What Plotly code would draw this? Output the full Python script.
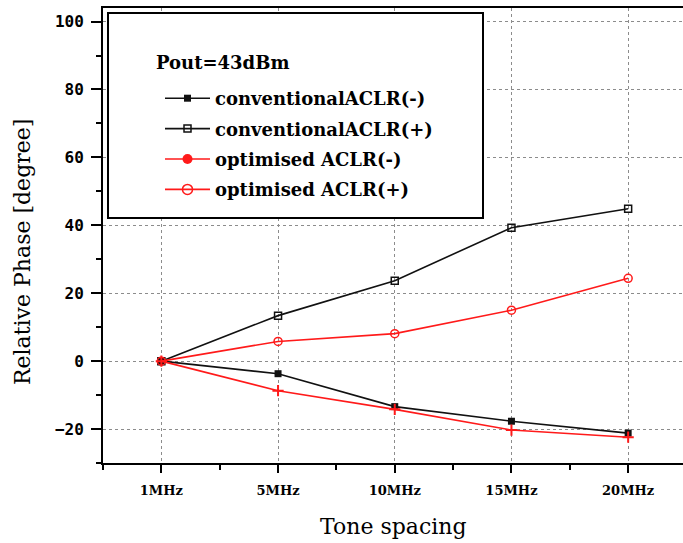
import plotly.graph_objects as go

# ---- data ----
categories = ["1MHz", "5MHz", "10MHz", "15MHz", "20MHz"]
conv_minus = [0, -3.7, -13.4, -17.7, -21.2]
conv_plus = [0, 13.4, 23.7, 39.3, 44.9]
opt_minus = [0, -8.7, -14.2, -20.3, -22.4]
opt_plus = [0, 5.8, 8.1, 15.0, 24.4]
legend_title = "Pout=43dBm"
names = ["conventionalACLR(-)", "conventionalACLR(+)", "optimised ACLR(-)", "optimised ACLR(+)"]

xi = list(range(len(categories)))
BLACK = "#111111"
RED = "#ff1a1a"

# plot-area geometry (pixels) used to place paper-referenced layout items
L, R, T, B = 103, 683, 8, 463
W, H = R - L, B - T
def px(x):
    return (x - L) / W
def py(y):
    return 1 - (y - T) / H

fig = go.Figure()

series = [
    (conv_minus, BLACK, dict(symbol="square", size=7, color=BLACK)),
    (conv_plus, BLACK, dict(symbol="square-open", size=7, color=BLACK, line=dict(width=1.5))),
    (opt_minus, RED, dict(symbol="cross-thin-open", size=8, color=RED, line=dict(width=2, color=RED))),
    (opt_plus, RED, dict(symbol="circle-open", size=8, color=RED, line=dict(width=1.5))),
]
for vals, col, mk in series:
    fig.add_trace(go.Scatter(x=xi, y=vals, mode="lines+markers",
                             line=dict(color=col, width=1.6), marker=mk,
                             showlegend=False, hoverinfo="skip"))

legend_markers = [
    dict(symbol="square", size=7, color=BLACK),
    dict(symbol="square-open", size=7, color=BLACK, line=dict(width=1.5)),
    dict(symbol="circle", size=10, color=RED),
    dict(symbol="circle-open", size=10, color=RED, line=dict(width=1.5)),
]
for i, (nm, (vals, col, _), mk) in enumerate(zip(names, series, legend_markers)):
    fig.add_trace(go.Scatter(x=[None], y=[None], mode="lines+markers", name=nm,
                             line=dict(color=col, width=1.6), marker=mk,
                             legendgroup=f"g{i}"))

# legend frame
fig.add_shape(type="rect", xref="paper", yref="paper",
              x0=px(108), x1=px(483), y0=py(218), y1=py(13),
              line=dict(color="black", width=2), fillcolor="white", layer="above")

fig.update_layout(
    width=683, height=543,
    margin=dict(l=L, r=683 - R, t=T, b=543 - B),
    paper_bgcolor="white", plot_bgcolor="white",
    showlegend=True,
    legend=dict(
        x=px(160), xanchor="left",
        y=py(80), yanchor="top",
        bgcolor="rgba(0,0,0,0)", borderwidth=0,
        font=dict(family="DejaVu Serif", size=18, color="black", weight="bold"),
        itemwidth=45, tracegroupgap=4, traceorder="grouped",
    ),
    xaxis=dict(
        range=[-0.5, 4.47], tickmode="array", tickvals=xi, ticktext=categories,
        showline=True, linecolor="black", linewidth=2, mirror=True,
        ticks="outside", ticklen=8, tickwidth=2, tickcolor="black",
        minor=dict(tickmode="linear", tick0=0.5, dtick=1, ticks="outside", ticklen=5, tickwidth=2, tickcolor="black"),
        showgrid=True, gridcolor="#8c8c8c", griddash="dot", gridwidth=1,
        zeroline=False,
        tickfont=dict(family="DejaVu Serif", size=13, color="black", weight="bold"),
        ticklabelstandoff=6,
    ),
    yaxis=dict(
        range=[-30, 104], tickmode="linear", tick0=0, dtick=20,
        showline=True, linecolor="black", linewidth=2,
        ticks="outside", ticklen=10, tickwidth=2, tickcolor="black",
        minor=dict(tickmode="linear", tick0=10, dtick=20, ticks="outside", ticklen=5, tickwidth=2, tickcolor="black"),
        showgrid=True, gridcolor="#8c8c8c", griddash="dot", gridwidth=1,
        zeroline=False,
        tickfont=dict(family="DejaVu Sans Mono", size=16, color="black", weight="bold"),
        ticklabelstandoff=4,
    ),
    annotations=[
        dict(text=legend_title, xref="paper", yref="paper",
             x=px(154), y=py(62), xanchor="left", yanchor="middle", showarrow=False,
             font=dict(family="DejaVu Serif", size=18, color="black", weight="bold")),
        dict(text="Relative Phase [degree]", xref="paper", yref="paper",
             x=px(22), y=py(252), textangle=-90,
             showarrow=False, xanchor="center", yanchor="middle",
             font=dict(family="DejaVu Serif", size=22, color="black")),
        dict(text="Tone spacing", xref="paper", yref="paper",
             x=px(394), y=py(526),
             showarrow=False, xanchor="center", yanchor="middle",
             font=dict(family="DejaVu Serif", size=22, color="black")),
    ],
)

fig.write_html("out.html", config={"displayModeBar": False},
               post_script="document.body.style.margin='0';")
